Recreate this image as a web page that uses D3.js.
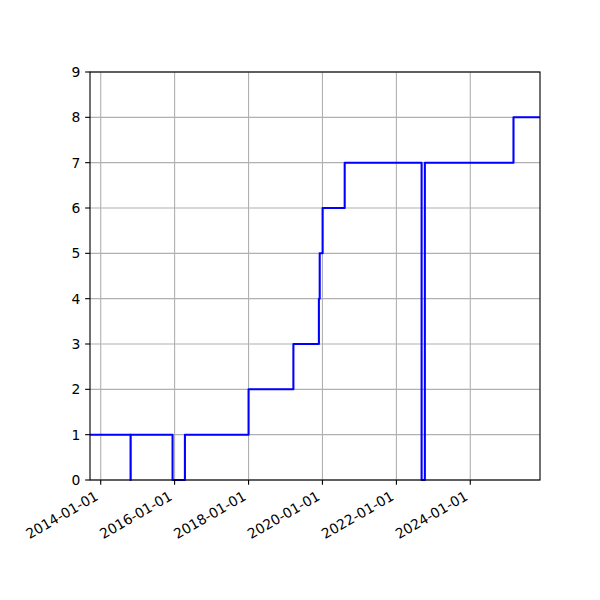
<!DOCTYPE html>
<html>
<head>
<meta charset="utf-8">
<script src="https://cdn.jsdelivr.net/npm/d3@7"></script>
<style>
  body { margin: 0; background: #fff; }
  text { font-family: "DejaVu Sans", sans-serif; font-size: 13.89px; fill: #000; }
</style>
</head>
<body>
<svg id="chart" width="600" height="600"></svg>
<script>
// step data (value holds until next date)
const dates = ["2013-09-17", "2014-10-23", "2014-10-24", "2015-12-12", "2016-04-12",
  "2018-01-01", "2019-03-20", "2019-11-27", "2019-12-05", "2020-01-03", "2020-08-08",
  "2022-09-07", "2022-10-09", "2025-03-03", "2025-11-20"];
const values = [1, 0, 1, 0, 1, 2, 3, 4, 5, 6, 7, 0, 7, 8, 8];
const xTickLabels = ["2014-01-01", "2016-01-01", "2018-01-01", "2020-01-01", "2022-01-01", "2024-01-01"];
const yTicks = [0, 1, 2, 3, 4, 5, 6, 7, 8, 9];

const parse = d3.timeParse("%Y-%m-%d");
const points = dates.map((d, i) => ({ t: parse(d), v: values[i] }));

const axLeft = 90, axRight = 540, axTop = 72, axBottom = 480;
const tickLen = 4.86, pad = 4.86;
const svg = d3.select('#chart');

const x = d3.scaleTime()
  .domain(d3.extent(points, d => d.t))
  .range([axLeft, axRight]);
const y = d3.scaleLinear().domain([0, 9]).range([axBottom, axTop]);

// grid
const grid = svg.append('g').attr('stroke', '#b0b0b0').attr('stroke-width', 1.11);
xTickLabels.forEach(s => {
  const px = x(parse(s));
  grid.append('line').attr('x1', px).attr('x2', px).attr('y1', axTop).attr('y2', axBottom);
});
yTicks.forEach(v => {
  grid.append('line').attr('x1', axLeft).attr('x2', axRight).attr('y1', y(v)).attr('y2', y(v));
});

// line
const line = d3.line()
  .x(d => x(d.t))
  .y(d => y(d.v))
  .curve(d3.curveStepAfter);
svg.append('path')
  .datum(points)
  .attr('d', line)
  .attr('fill', 'none')
  .attr('stroke', '#0000ff')
  .attr('stroke-width', 2.08)
  .attr('stroke-linejoin', 'round');

// frame
svg.append('rect')
  .attr('x', axLeft).attr('y', axTop)
  .attr('width', axRight - axLeft).attr('height', axBottom - axTop)
  .attr('fill', 'none').attr('stroke', '#000').attr('stroke-width', 1.11);

// x ticks
const xg = svg.append('g');
xTickLabels.forEach(s => {
  const px = x(parse(s));
  xg.append('line').attr('x1', px).attr('x2', px).attr('y1', axBottom).attr('y2', axBottom + tickLen)
    .attr('stroke', '#000').attr('stroke-width', 1.11);
  xg.append('text')
    .attr('transform', 'translate(' + (px - 1.5) + ',' + 499 + ') rotate(-30)')
    .attr('text-anchor', 'end')
    .text(s);
});

// y ticks
const yg = svg.append('g');
yTicks.forEach(v => {
  yg.append('line').attr('x1', axLeft - tickLen).attr('x2', axLeft).attr('y1', y(v)).attr('y2', y(v))
    .attr('stroke', '#000').attr('stroke-width', 1.11);
  yg.append('text')
    .attr('x', axLeft - tickLen - pad).attr('y', y(v))
    .attr('dy', '0.35em')
    .attr('text-anchor', 'end')
    .text(v);
});
</script>
</body>
</html>
